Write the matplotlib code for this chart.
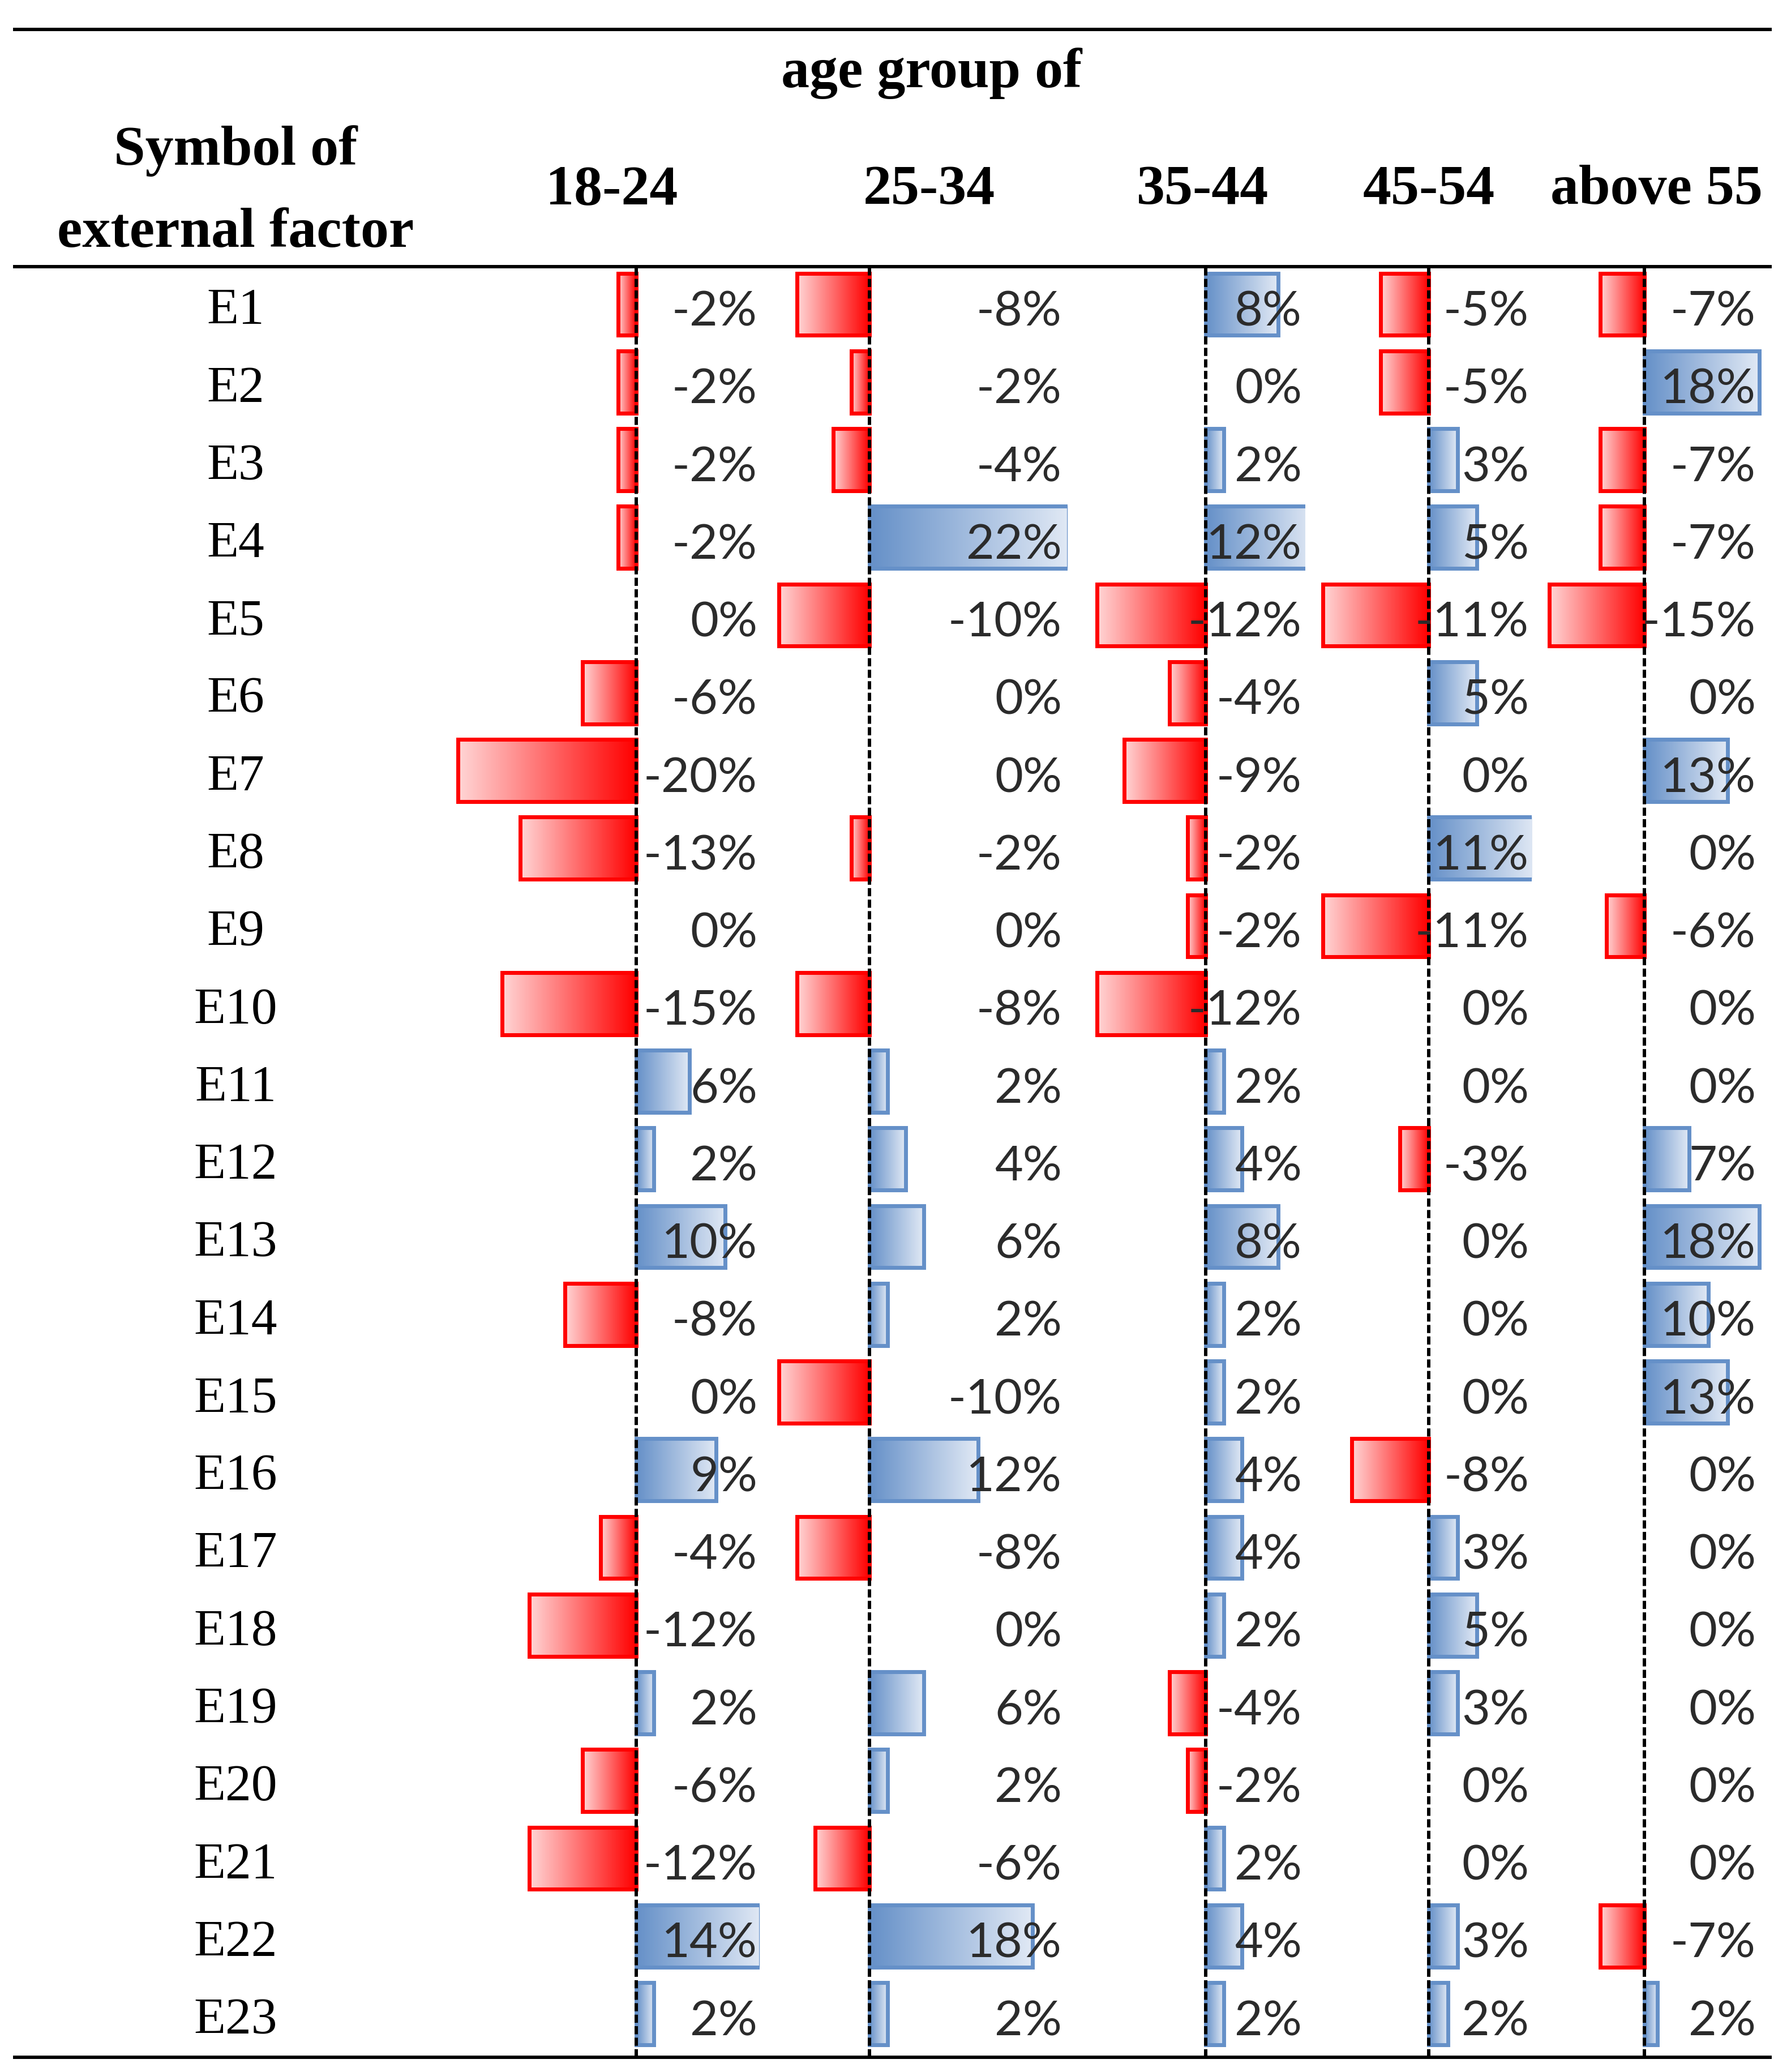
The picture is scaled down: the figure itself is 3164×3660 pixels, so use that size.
import numpy as np
import matplotlib
matplotlib.use("Agg")
import matplotlib.pyplot as plt
from matplotlib.lines import Line2D
from matplotlib.colors import to_rgb

# ---------------- data ----------------
factors = [f"E{i}" for i in range(1, 24)]
age_groups = ["18-24", "25-34", "35-44", "45-54", "above 55"]
v_18_24 = [-2, -2, -2, -2, 0, -6, -20, -13, 0, -15, 6, 2, 10, -8, 0, 9, -4, -12, 2, -6, -12, 14, 2]
v_25_34 = [-8, -2, -4, 22, -10, 0, 0, -2, 0, -8, 2, 4, 6, 2, -10, 12, -8, 0, 6, 2, -6, 18, 2]
v_35_44 = [8, 0, 2, 12, -12, -4, -9, -2, -2, -12, 2, 4, 8, 2, 2, 4, 4, 2, -4, -2, 2, 4, 2]
v_45_54 = [-5, -5, 3, 5, -11, 5, 0, 11, -11, 0, 0, -3, 0, 0, 0, -8, 3, 5, 3, 0, 0, 3, 2]
v_above_55 = [-7, 18, -7, -7, -15, 0, 13, 0, -6, 0, 0, 7, 18, 10, 13, 0, 0, 0, 0, 0, 0, -7, 2]
columns = [v_18_24, v_25_34, v_35_44, v_45_54, v_above_55]

# ---------------- layout (pixels) ----------------
W, H = 3164, 3660
DPI = 100
fig = plt.figure(figsize=(W / DPI, H / DPI), dpi=DPI)
fig.patch.set_facecolor("white")

def fx(x):
    return x / W

def fy(y):
    return 1 - y / H

TOP_Y, HEAD_Y, BOT_Y = 52, 471, 3634
LINE_X0, LINE_X1 = 26, 3127
ROW0, ROW_STEP = 537.5, 137.25
BAR_H = 0.80

# per column: left px, right px, zero px, px per %, label right px
col_geom = [
    (780, 1342, 1123.7, 15.75, 1338),
    (1345, 1886, 1535.7, 16.0, 1876),
    (1890, 2306, 2130.0, 16.0, 2300),
    (2310, 2706, 2523.5, 17.0, 2701),
    (2710, 3127, 2905.4, 11.25, 3102),
]

serif = ["Liberation Serif", "DejaVu Serif"]
sans = ["Lato", "DejaVu Sans"]

blue = np.array(to_rgb("#6590C8"))
blue_end = np.array(to_rgb("#E1E9F5"))
red = np.array(to_rgb("#FF0000"))
red_end = np.array(to_rgb("#FFD6D6"))

y_top = (HEAD_Y - ROW0) / ROW_STEP
y_bot = (BOT_Y - ROW0) / ROW_STEP

def gradient(c0, c1, n=256):
    t = np.linspace(0, 1, n)[None, :, None]
    return c0[None, None, :] * (1 - t) + c1[None, None, :] * t

for vals, (L, R, Z, s, LR) in zip(columns, col_geom):
    ax = fig.add_axes([fx(L), fy(BOT_Y), fx(R) - fx(L), (BOT_Y - HEAD_Y) / H])
    xlim = ((L - Z) / s, (R - Z) / s)
    for i, v in enumerate(vals):
        if v == 0:
            continue
        y0, y1 = i - BAR_H / 2, i + BAR_H / 2
        if v > 0:
            img = gradient(blue, blue_end)
            ext = (0, v, y1, y0)
            ec = "#6590C8"
        else:
            img = gradient(red_end, red)
            ext = (v, 0, y1, y0)
            ec = "#FF0000"
        ax.imshow(img, extent=ext, aspect="auto", interpolation="bilinear", zorder=1)
        ax.barh(i, v, height=BAR_H, left=0, fill=False, edgecolor=ec,
                linewidth=5.0, zorder=2)
    ax.axvline(0, color="black", linewidth=4.3, linestyle=(0, (2.4, 1.0)), zorder=3)
    lab_frac = (LR - L) / (R - L)
    for i, v in enumerate(vals):
        ax.text(lab_frac, i + 38 / ROW_STEP, f"{v}%", transform=ax.get_yaxis_transform(),
                ha="right", va="baseline", fontsize=62, family=sans, fontweight="normal",
                color="#2b2b2b", zorder=4)
    ax.set_xlim(*xlim)
    ax.set_ylim(y_bot, y_top)
    ax.axis("off")

# row labels
for i, name in enumerate(factors):
    yb = ROW0 + i * ROW_STEP + 35
    fig.text(fx(416), fy(yb), name, ha="center", va="baseline", fontsize=66,
             family=serif, color="black")

# headers
fig.text(fx(1646), fy(154), "age group of", ha="center", va="baseline", fontsize=72,
         family=serif, fontweight="bold")
fig.text(fx(416), fy(291), "Symbol of", ha="center", va="baseline", fontsize=72,
         family=serif, fontweight="bold")
fig.text(fx(416), fy(436), "external factor", ha="center", va="baseline", fontsize=72,
         family=serif, fontweight="bold")
head_x = [1081, 1641, 2125, 2524, 2926]
for name, x in zip(age_groups, head_x):
    fig.text(fx(x), fy(360), name, ha="center", va="baseline", fontsize=72,
             family=serif, fontweight="bold")

# rules
for y in (TOP_Y, HEAD_Y, BOT_Y):
    fig.add_artist(Line2D([fx(LINE_X0), fx(LINE_X1)], [fy(y), fy(y)],
                          transform=fig.transFigure, color="black", linewidth=4.3))

fig.savefig("out.png", dpi=DPI, facecolor="white")
